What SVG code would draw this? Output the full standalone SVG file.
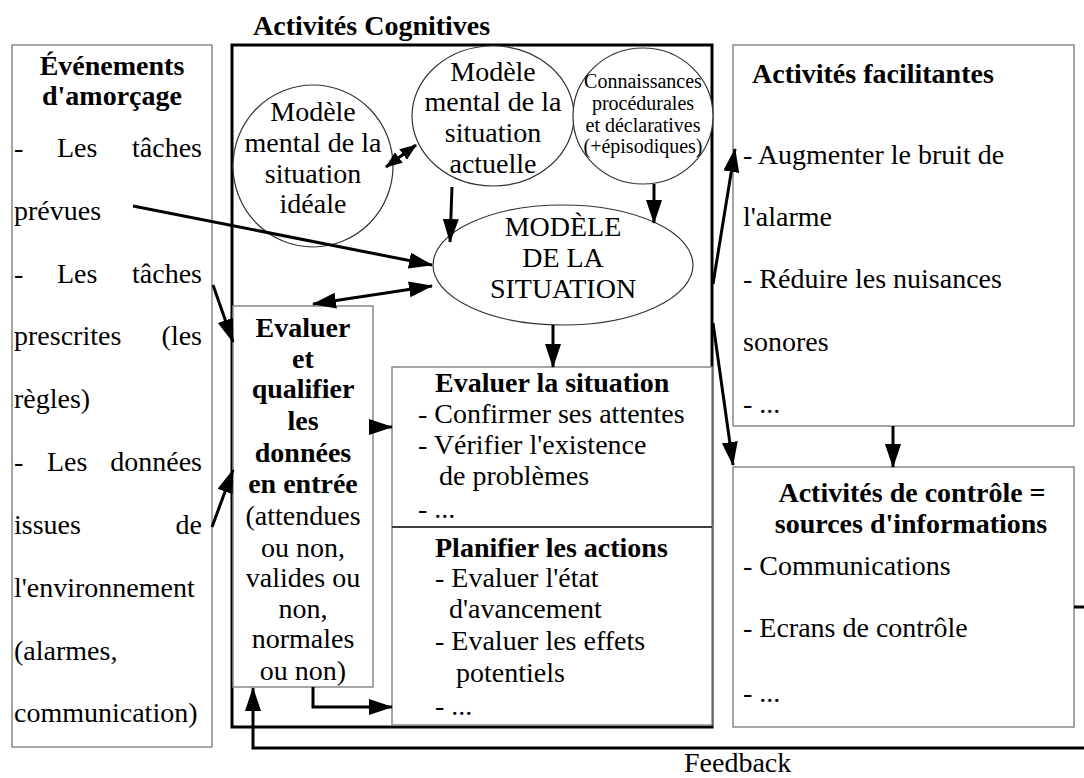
<svg xmlns="http://www.w3.org/2000/svg" width="1084" height="778" viewBox="0 0 1084 778" font-family="Liberation Serif, Times New Roman, Times, serif">
<style>
text{font-family:'Liberation Serif','Times New Roman',Times,serif;font-size:28px;fill:#000}
.b{font-weight:bold}
.c{text-anchor:middle}
.e{text-anchor:end}
.s{font-size:20px}
.box{fill:#fff;stroke:#888;stroke-width:1.5}
.ell{fill:#fff;stroke:#333;stroke-width:1.2}
.main{fill:none;stroke:#000;stroke-width:3}
.ln{fill:none;stroke:#000;stroke-width:3}
.arr{marker-end:url(#ah)}
.dbl{marker-end:url(#ah);marker-start:url(#ah)}
.dbs{marker-end:url(#as);marker-start:url(#as)}
</style>
<defs>
<marker id="ah" markerUnits="userSpaceOnUse" markerWidth="26" markerHeight="18" refX="23" refY="8" orient="auto-start-reverse" viewBox="0 0 26 18">
<path d="M0,0 L24,8 L0,16 z" fill="#000"/>
</marker>
<marker id="as" markerUnits="userSpaceOnUse" markerWidth="18" markerHeight="14" refX="16" refY="6.5" orient="auto-start-reverse" viewBox="0 0 18 14">
<path d="M0,0 L17,6.5 L0,13 z" fill="#000"/>
</marker>
</defs>
<rect width="1084" height="778" fill="#fff"/>

<g id="cognitive-frame">
<rect class="main" x="232" y="45" width="480" height="682"/>
<text class="b" x="253" y="35">Activités Cognitives</text>
</g>

<g id="evenements">
<rect class="box" x="12" y="45" width="200" height="702"/>
<text class="b c" x="112" y="75">Événements</text>
<text class="b c" x="112" y="105">d'amorçage</text>
<text x="14" y="157">-</text><text x="57" y="157">Les</text><text class="e" x="202" y="157">tâches</text>
<text x="14" y="220">prévues</text>
<text x="14" y="283">-</text><text x="57" y="283">Les</text><text class="e" x="202" y="283">tâches</text>
<text x="14" y="345">prescrites</text><text class="e" x="202" y="345">(les</text>
<text x="14" y="408">règles)</text>
<text x="14" y="471">-</text><text x="47" y="471">Les</text><text class="e" x="202" y="471">données</text>
<text x="14" y="534">issues</text><text class="e" x="202" y="534">de</text>
<text x="14" y="597">l'environnement</text>
<text x="14" y="660">(alarmes,</text>
<text x="14" y="722">communication)</text>
</g>

<g id="modele-ideal">
<ellipse class="ell" cx="313" cy="166" rx="80" ry="81"/>
<text class="c" x="313" y="121">Modèle</text>
<text class="c" x="313" y="152">mental de la</text>
<text class="c" x="313" y="183">situation</text>
<text class="c" x="313" y="213">idéale</text>
</g>

<g id="modele-actuel">
<ellipse class="ell" cx="493" cy="116" rx="81" ry="70"/>
<text class="c" x="493" y="81">Modèle</text>
<text class="c" x="493" y="111">mental de la</text>
<text class="c" x="493" y="142">situation</text>
<text class="c" x="493" y="173">actuelle</text>
</g>

<g id="connaissances">
<ellipse class="ell" cx="643" cy="116" rx="70" ry="68"/>
<text class="c s" x="643" y="88">Connaissances</text>
<text class="c s" x="643" y="110">procédurales</text>
<text class="c s" x="643" y="132">et déclaratives</text>
<text class="c s" x="643" y="153">(+épisodiques)</text>
</g>

<g id="modele-situation">
<ellipse class="ell" cx="563" cy="265" rx="130" ry="60"/>
<text class="c" x="563" y="236">MODÈLE</text>
<text class="c" x="563" y="267">DE LA</text>
<text class="c" x="563" y="298">SITUATION</text>
</g>

<g id="evaluer-donnees">
<rect class="box" x="233" y="306" width="140" height="381"/>
<text class="b c" x="303" y="337">Evaluer</text>
<text class="b c" x="303" y="368">et</text>
<text class="b c" x="303" y="398">qualifier</text>
<text class="b c" x="303" y="430">les</text>
<text class="b c" x="303" y="462">données</text>
<text class="b c" x="303" y="493">en entrée</text>
<text class="c" x="303" y="525">(attendues</text>
<text class="c" x="303" y="557">ou non,</text>
<text class="c" x="303" y="587">valides ou</text>
<text class="c" x="303" y="618">non,</text>
<text class="c" x="303" y="648">normales</text>
<text class="c" x="303" y="680">ou non)</text>
</g>

<g id="evaluer-situation">
<rect class="box" x="392" y="367" width="320" height="160"/>
<text class="b" x="435" y="392">Evaluer la situation</text>
<text x="418" y="423">- Confirmer ses attentes</text>
<text x="418" y="454">- Vérifier l'existence</text>
<text x="439" y="485">de problèmes</text>
<text x="418" y="518">- ...</text>
</g>

<g id="planifier">
<rect class="box" x="392" y="527" width="320" height="198"/>
<line x1="392" y1="527" x2="712" y2="527" stroke="#222" stroke-width="1.5"/>
<text class="b" x="435" y="557">Planifier les actions</text>
<text x="435" y="587">- Evaluer l'état</text>
<text x="449" y="618">d'avancement</text>
<text x="435" y="650">- Evaluer les effets</text>
<text x="456" y="682">potentiels</text>
<text x="435" y="715">- ...</text>
</g>

<g id="facilitantes">
<rect class="box" x="733" y="45" width="341" height="381"/>
<text class="b" x="752" y="83">Activités facilitantes</text>
<text x="743" y="164">- Augmenter le bruit de</text>
<text x="743" y="226">l'alarme</text>
<text x="743" y="288">- Réduire les nuisances</text>
<text x="743" y="351">sonores</text>
<text x="743" y="413">- ...</text>
</g>

<g id="controle">
<rect class="box" x="733" y="467" width="341" height="260"/>
<text class="b c" x="912" y="502">Activités de contrôle =</text>
<text class="b c" x="911" y="533">sources d'informations</text>
<text x="743" y="575">- Communications</text>
<text x="743" y="637">- Ecrans de contrôle</text>
<text x="743" y="702">- ...</text>
</g>

<g id="connectors">
<line class="ln arr" x1="133" y1="206" x2="432" y2="265"/>
<line class="ln dbs" x1="386" y1="167" x2="416" y2="145"/>
<line class="ln arr" x1="452" y1="187" x2="450" y2="242"/>
<line class="ln arr" x1="654" y1="184" x2="654" y2="223"/>
<line class="ln dbl" x1="313" y1="304" x2="432" y2="286"/>
<line class="ln arr" x1="213" y1="285" x2="233" y2="342"/>
<line class="ln arr" x1="212" y1="527" x2="233" y2="470"/>
<line class="ln arr" x1="373" y1="427" x2="392" y2="427"/>
<path class="ln arr" d="M313,687 V707 H392"/>
<line class="ln arr" x1="553" y1="325" x2="553" y2="367"/>
<line class="ln arr" x1="713" y1="284" x2="735" y2="149"/>
<line class="ln arr" x1="713" y1="323" x2="733" y2="465"/>
<line class="ln arr" x1="893" y1="426" x2="893" y2="467"/>
<path class="ln arr" d="M1074,607 H1092 V748 H253 V688"/>
</g>

<g id="feedback-label">
<text x="684" y="772">Feedback</text>
</g>
</svg>
